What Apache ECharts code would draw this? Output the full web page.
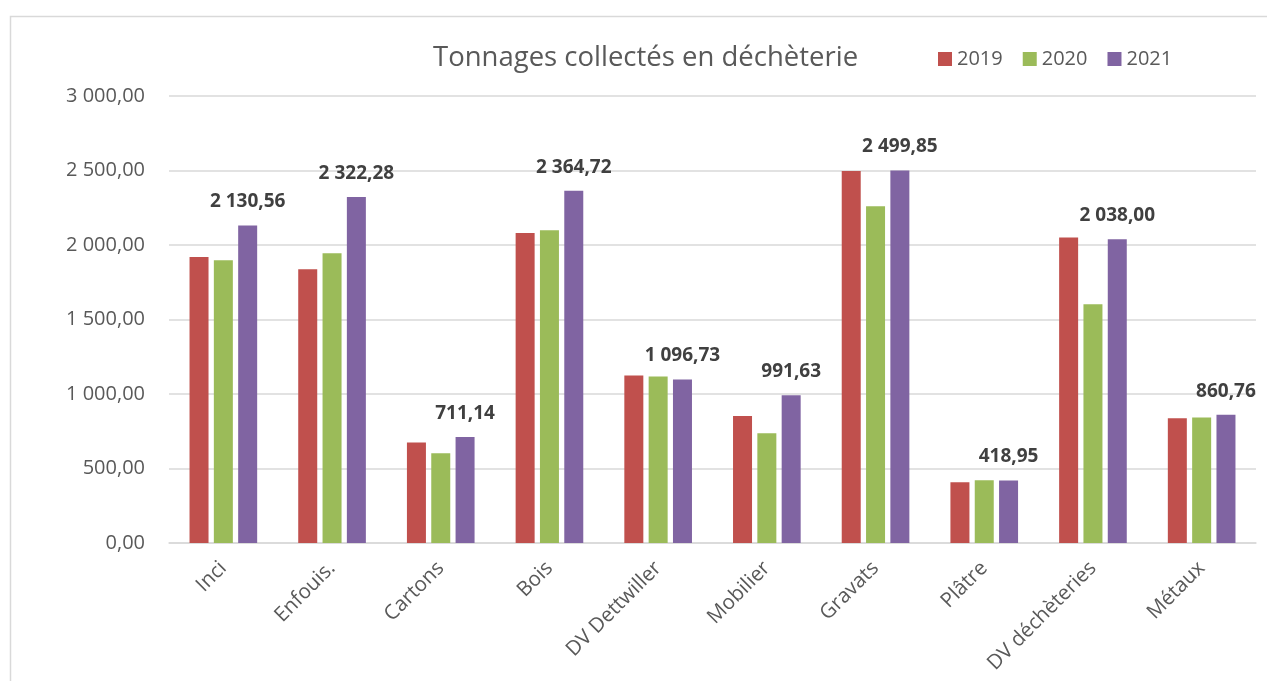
<!DOCTYPE html>
<html>
<head>
<meta charset="utf-8">
<script src="https://cdn.jsdelivr.net/npm/echarts@6/dist/echarts.min.js"></script>
<style>
  html, body { margin: 0; padding: 0; background: #fff; }
  #chart { width: 1267px; height: 681px; }
</style>
</head>
<body>
<div id="chart"></div>
<script>
// catégories et tonnages
const categories = ['Inci', 'Enfouis.', 'Cartons', 'Bois', 'DV Dettwiller', 'Mobilier', 'Gravats', 'Plâtre', 'DV déchèteries', 'Métaux']
const years = ['2019', '2020', '2021']
const values2019 = [1919, 1837, 674, 2081, 1125, 852, 2497, 407, 2050, 837]
const values2020 = [1897, 1944, 602, 2099, 1117, 736, 2260, 421, 1602, 842]
const values2021 = [2130.56, 2322.28, 711.14, 2364.72, 1096.73, 991.63, 2499.85, 418.95, 2038.00, 860.76]
const colors = ['#C0504D', '#9BBB59', '#8064A2']

const FONT = 'Open Sans'

// format français : "2 130,56"
const frNum = (v) => {
  const parts = Number(v).toFixed(2).split('.')
  parts[0] = parts[0].replace(/\B(?=(\d{3})+(?!\d))/g, ' ')
  return parts[0] + ',' + parts[1]
}

const chart = echarts.init(document.getElementById('chart'))

const barSeries = (name, data, color, withLabel) => ({
  name: name,
  type: 'bar',
  data: data,
  barWidth: 19,
  barGap: '28%',
  itemStyle: { color: color },
  label: {
    show: withLabel,
    position: 'top',
    distance: 14,
    fontFamily: FONT,
    fontSize: 19,
    fontWeight: 'bold',
    color: '#404040',
    formatter: (p) => frNum(p.value)
  }
})

const option = {
  animation: false,
  backgroundColor: '#fff',
  color: colors,
  textStyle: { fontFamily: FONT },
  graphic: [
    {
      type: 'rect',
      left: 8,
      top: 14,
      shape: { width: 1300, height: 720 },
      style: { fill: 'none', stroke: '#d9d9d9', lineWidth: 1.5 },
      silent: true
    }
  ],
  title: {
    text: 'Tonnages collectés en déchèterie',
    left: 428,
    top: 39,
    textStyle: {
      fontFamily: FONT,
      fontSize: 27.5,
      fontWeight: 'normal',
      color: '#595959'
    }
  },
  legend: {
    data: years,
    left: 933,
    top: 44,
    icon: 'rect',
    itemWidth: 14,
    itemHeight: 14,
    itemGap: 20,
    textStyle: { fontFamily: FONT, fontSize: 20, color: '#595959' }
  },
  grid: {
    left: 169,
    right: 11,
    top: 96,
    bottom: 138
  },
  xAxis: {
    type: 'category',
    data: categories,
    axisLine: { lineStyle: { color: '#d9d9d9', width: 1.5 } },
    axisTick: { show: false },
    axisLabel: {
      rotate: 45,
      margin: 22,
      fontFamily: FONT,
      fontSize: 20.5,
      color: '#595959'
    }
  },
  yAxis: {
    type: 'value',
    min: 0,
    max: 3000,
    interval: 500,
    axisLine: { show: false },
    axisTick: { show: false },
    splitLine: { lineStyle: { color: '#d9d9d9', width: 1.5 } },
    axisLabel: {
      margin: 24,
      fontFamily: FONT,
      fontSize: 20,
      color: '#595959',
      formatter: (v) => frNum(v)
    }
  },
  series: [
    barSeries(years[0], values2019, colors[0], false),
    barSeries(years[1], values2020, colors[1], false),
    barSeries(years[2], values2021, colors[2], true)
  ]
}

chart.setOption(option)
</script>
</body>
</html>
